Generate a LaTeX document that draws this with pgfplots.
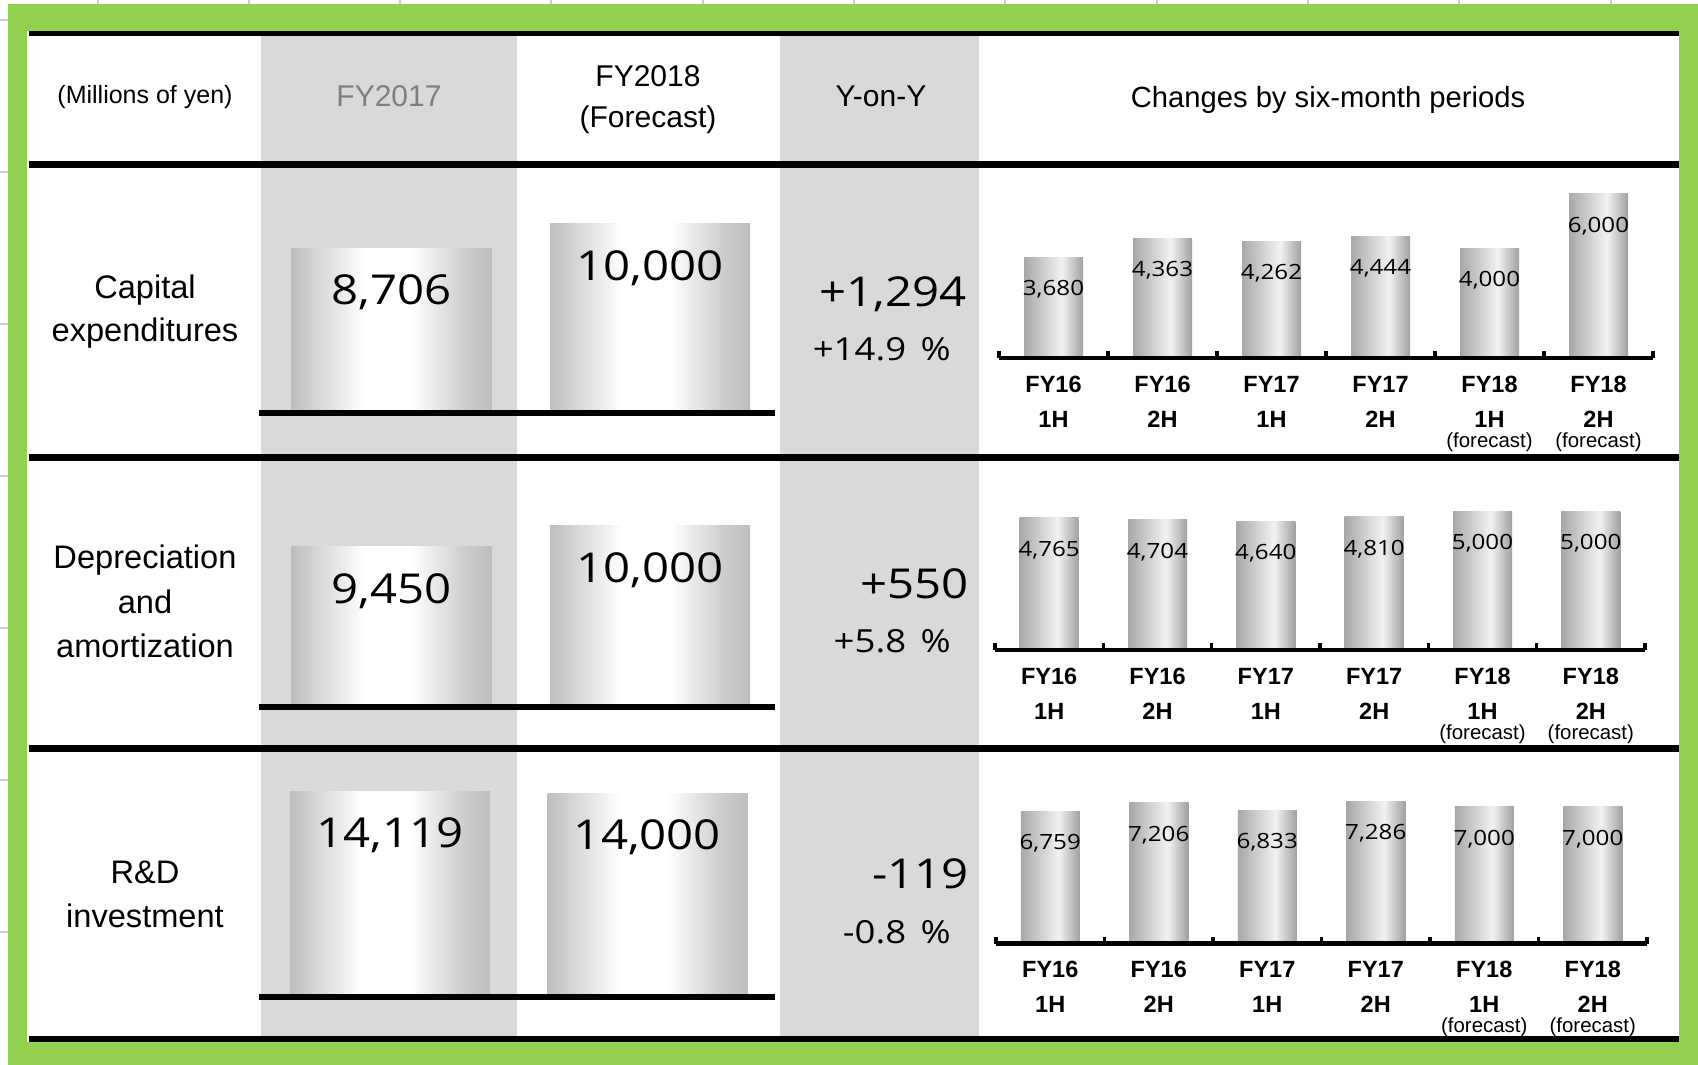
\documentclass[border=0pt]{standalone}
\usepackage{fontspec}
\setmainfont{Liberation Sans}
\newfontfamily\numfont[FakeStretch=1.15]{Open Sans}
\usepackage{pgfplots}
\pgfplotsset{compat=1.18}

\definecolor{frame}{HTML}{92D050}
\definecolor{colgray}{HTML}{D9D9D9}
\definecolor{hdrgray}{HTML}{7F7F7F}
\definecolor{gridlav}{HTML}{C8C8F0}
\definecolor{bbEdge}{HTML}{BEBEBE}
\definecolor{bbSoft}{HTML}{D4D4D4}
\definecolor{bbSoftR}{HTML}{CECECE}
\definecolor{sbL}{HTML}{A8A8A8}
\definecolor{sbM}{HTML}{F2F2F2}
\definecolor{sbR}{HTML}{A0A0A0}

% cylinder-like horizontal gradients (25bp = left edge, 75bp = right edge)
\pgfdeclarehorizontalshading{bigbar}{100bp}{color(0bp)=(bbEdge); color(25bp)=(bbEdge); color(31bp)=(bbSoft); color(43bp)=(white); color(55bp)=(white); color(68bp)=(bbSoftR); color(75bp)=(bbEdge); color(100bp)=(bbEdge)}
\pgfdeclarehorizontalshading{halfbar}{100bp}{color(0bp)=(sbL); color(25bp)=(sbL); color(57bp)=(sbM); color(75bp)=(sbR); color(100bp)=(sbR)}

\newcommand{\bignum}{\numfont\fontsize{20.6pt}{24pt}\selectfont}
\newcommand{\pctnum}{\numfont\fontsize{15.9pt}{19pt}\selectfont}
\newcommand{\smallnum}{\numfont\fontsize{10.5pt}{12pt}\selectfont}
\newcommand{\vlab}{\pgfmathprintnumber[fixed,precision=0,1000 sep={,},assume math mode=true]{\pgfplotspointmeta}}
\newcommand{\catfont}{\fontsize{11.75pt}{14pt}\selectfont\bfseries}
\newcommand{\fcfont}{\fontsize{10.2pt}{12pt}\selectfont}

% category label under a half-year bar: x, baseline 1, baseline 2, line 1, line 2
\newcommand{\cat}[5]{%
  \node[anchor=base, inner sep=0pt, font=\catfont] at (#1,#2) {#4};
  \node[anchor=base, inner sep=0pt, font=\catfont] at (#1,#3) {#5};}
\newcommand{\catf}[6]{%
  \cat{#1}{#2}{#3}{#5}{#6}%
  \node[anchor=base, inner sep=0pt, font=\fcfont] at (#1,#4) {(forecast)};}

\pgfplotsset{
  % every axis covers the whole sheet; x is measured in sheet pixels
  page/.style={scale only axis, width=849pt, height=532.5pt, xmin=0, xmax=1698,
    hide axis, clip=false, xtick=\empty, ytick=\empty, at={(0,0)}, anchor=south west},
  sheet/.style={page, ymin=0, ymax=1065, y dir=reverse},
  biglabel/.style={nodes near coords={\vlab},
    every node near coord/.append style={anchor=base, yshift=-28.25pt, inner sep=0pt, text=black, font=\bignum}},
  annualbar/.style={bar width=100pt, draw=none, shading=bigbar, overlay},
  % one \addplot per bar, so that every bar carries its own gradient
  annual/.style={ybar, annualbar, biglabel},
  half/.style={ybar, bar width=29.5pt, draw=none, shading=halfbar, overlay,
    nodes near coords={\vlab},
    every node near coord/.append style={anchor=base, yshift=-19.25pt, inner sep=0pt, text=black, font=\smallnum}},
}

\begin{document}
\begin{tikzpicture}
% ================= sheet background, columns and texts =================
\begin{axis}[sheet]
\coordinate (pgTL) at (0,0);
\coordinate (pgBR) at (1698,1065);
\fill[white] (0,0) rectangle (1698,1065);
% spreadsheet grid peeking out around the frame
\draw[gridlav, line width=1pt] (97.5,0) -- (97.5,4);
\draw[gridlav, line width=1pt] (248.8,0) -- (248.8,4);
\draw[gridlav, line width=1pt] (400.1,0) -- (400.1,4);
\draw[gridlav, line width=1pt] (551.4,0) -- (551.4,4);
\draw[gridlav, line width=1pt] (702.7,0) -- (702.7,4);
\draw[gridlav, line width=1pt] (854,0) -- (854,4);
\draw[gridlav, line width=1pt] (1005.3,0) -- (1005.3,4);
\draw[gridlav, line width=1pt] (1156.6,0) -- (1156.6,4);
\draw[gridlav, line width=1pt] (1307.9,0) -- (1307.9,4);
\draw[gridlav, line width=1pt] (1459.2,0) -- (1459.2,4);
\draw[gridlav, line width=1pt] (1610.5,0) -- (1610.5,4);
\draw[gridlav, line width=1pt] (0,20) -- (8,20);
\draw[gridlav, line width=1pt] (0,172) -- (8,172);
\draw[gridlav, line width=1pt] (0,324) -- (8,324);
\draw[gridlav, line width=1pt] (0,476) -- (8,476);
\draw[gridlav, line width=1pt] (0,628) -- (8,628);
\draw[gridlav, line width=1pt] (0,780) -- (8,780);
\draw[gridlav, line width=1pt] (0,932) -- (8,932);
% green frame and table body
\fill[frame] (8,4) rectangle (1698,1065);
\fill[white] (27,31) rectangle (1679,1042);
\fill[colgray] (261,33) rectangle (516.5,1039);
\fill[colgray] (780,33) rectangle (979,1039);
% header
\node[anchor=base, font=\fontsize{12.5pt}{15pt}\selectfont] at (145,104) {(Millions of yen)};
\node[anchor=base, text=hdrgray, font=\fontsize{15pt}{18pt}\selectfont] at (389,107) {FY2017};
\node[anchor=base, font=\fontsize{15pt}{18pt}\selectfont] at (648,87) {FY2018};
\node[anchor=base, font=\fontsize{15pt}{18pt}\selectfont] at (648,127) {(Forecast)};
\node[anchor=base, font=\fontsize{15pt}{18pt}\selectfont] at (881,107) {Y-on-Y};
\node[anchor=base, font=\fontsize{14.6pt}{18pt}\selectfont] at (1328,108) {Changes by six-month periods};
% row titles
\node[anchor=base, font=\fontsize{16.3pt}{20pt}\selectfont] at (145,298) {Capital};
\node[anchor=base, font=\fontsize{16.3pt}{20pt}\selectfont] at (145,341) {expenditures};
\node[anchor=base, font=\fontsize{16.3pt}{20pt}\selectfont] at (145,568) {Depreciation};
\node[anchor=base, font=\fontsize{16.3pt}{20pt}\selectfont] at (145,613) {and};
\node[anchor=base, font=\fontsize{16.3pt}{20pt}\selectfont] at (145,657) {amortization};
\node[anchor=base, font=\fontsize{16.3pt}{20pt}\selectfont] at (145,883) {R\&D};
\node[anchor=base, font=\fontsize{16.3pt}{20pt}\selectfont] at (145,927) {investment};
\end{axis}

% ================= Capital expenditures =================
% annual bars: value 0 on the baseline at y=413, 52.91 per pixel
\begin{axis}[page, ymin=-34497, ymax=21852]
\addplot[annual] coordinates {(391.5,8706)};
\addplot[annual] coordinates {(650,10000)};
\end{axis}
% half-year bars: value 0 on the axis line at y=358, 36.5 per pixel
\begin{axis}[page, ymin=-25805.5, ymax=13067]
\addplot[half] coordinates {(1053.5,3680)};
\addplot[half] coordinates {(1162.5,4363)};
\addplot[half] coordinates {(1271.5,4262)};
\addplot[half] coordinates {(1380.5,4444)};
\addplot[half] coordinates {(1489.5,4000)};
\addplot[half] coordinates {(1598.5,6000)};
\end{axis}

% ================= Depreciation and amortization =================
% annual bars stand on 5,200 at the baseline y=707, 26.5 per pixel
\begin{axis}[page, ymin=-4287, ymax=23935.5, ybar stacked]
\addplot[bar width=100pt, draw=none, fill=none, forget plot] coordinates {(391.5,5200)};
\addplot[annualbar] table[x=x, y expr=\thisrow{v}-5200, row sep=\\] {x v\\ 391.5 9450\\};
\end{axis}
\begin{axis}[page, ymin=-4287, ymax=23935.5, ybar stacked]
\addplot[bar width=100pt, draw=none, fill=none, forget plot] coordinates {(650,5200)};
\addplot[annualbar] table[x=x, y expr=\thisrow{v}-5200, row sep=\\] {x v\\ 650 10000\\};
\end{axis}
% value labels of the two bars above
\begin{axis}[page, ymin=-4287, ymax=23935.5]
\addplot[draw=none, mark=none, biglabel] coordinates {(391.5,9450) (650,10000)};
\end{axis}
% half-year bars: value 0 on the axis line at y=650, 36.05 per pixel
\begin{axis}[page, ymin=-14960.75, ymax=23432.5]
\addplot[half] coordinates {(1049.2,4765)};
\addplot[half] coordinates {(1157.5,4704)};
\addplot[half] coordinates {(1265.8,4640)};
\addplot[half] coordinates {(1374.2,4810)};
\addplot[half] coordinates {(1482.5,5000)};
\addplot[half] coordinates {(1590.8,5000)};
\end{axis}

% ================= R&D investment =================
% annual bars: value 0 on the baseline at y=997, 68.7 per pixel
\begin{axis}[page, ymin=-4671.6, ymax=68493.9]
\addplot[annual] coordinates {(389.75,14119)};
\addplot[annual] coordinates {(647.5,14000)};
\end{axis}
% half-year bars: value 0 on the axis line at y=943.5, 51.2 per pixel
\begin{axis}[page, ymin=-6220.8, ymax=48307.2]
\addplot[half] coordinates {(1050.25,6759)};
\addplot[half] coordinates {(1158.75,7206)};
\addplot[half] coordinates {(1267.25,6833)};
\addplot[half] coordinates {(1375.75,7286)};
\addplot[half] coordinates {(1484.25,7000)};
\addplot[half] coordinates {(1592.75,7000)};
\end{axis}

% ================= rules, category axes and year-on-year figures =================
\begin{axis}[sheet]
% table rules
\fill[black] (29,31) rectangle (1678.5,36);
\fill[black] (29,161) rectangle (1678.5,168);
\fill[black] (29,453.5) rectangle (1678.5,460.5);
\fill[black] (29,744.5) rectangle (1678.5,751.5);
\fill[black] (29,1036) rectangle (1678.5,1042);
% baselines under the annual bars
\fill[black] (259,410) rectangle (775,416);
\fill[black] (259,704) rectangle (775,710);
\fill[black] (259,994) rectangle (775,1000);
% half-year category axes with boundary ticks
\draw[line width=2.25pt] (999,358) -- (1653,358);
\draw[line width=1.6pt] (999,358) -- (999,351);
\draw[line width=1.6pt] (1108,358) -- (1108,351);
\draw[line width=1.6pt] (1217,358) -- (1217,351);
\draw[line width=1.6pt] (1326,358) -- (1326,351);
\draw[line width=1.6pt] (1435,358) -- (1435,351);
\draw[line width=1.6pt] (1544,358) -- (1544,351);
\draw[line width=1.6pt] (1653,358) -- (1653,351);
\draw[line width=2.25pt] (995,650) -- (1645,650);
\draw[line width=1.6pt] (995,650) -- (995,643);
\draw[line width=1.6pt] (1103.3,650) -- (1103.3,643);
\draw[line width=1.6pt] (1211.7,650) -- (1211.7,643);
\draw[line width=1.6pt] (1320,650) -- (1320,643);
\draw[line width=1.6pt] (1428.3,650) -- (1428.3,643);
\draw[line width=1.6pt] (1536.7,650) -- (1536.7,643);
\draw[line width=1.6pt] (1645,650) -- (1645,643);
\draw[line width=2.25pt] (996,943.5) -- (1647,943.5);
\draw[line width=1.6pt] (996,943.5) -- (996,936.5);
\draw[line width=1.6pt] (1104.5,943.5) -- (1104.5,936.5);
\draw[line width=1.6pt] (1213,943.5) -- (1213,936.5);
\draw[line width=1.6pt] (1321.5,943.5) -- (1321.5,936.5);
\draw[line width=1.6pt] (1430,943.5) -- (1430,936.5);
\draw[line width=1.6pt] (1538.5,943.5) -- (1538.5,936.5);
\draw[line width=1.6pt] (1647,943.5) -- (1647,936.5);
% category labels
\cat{1053.5}{392}{427}{FY16}{1H}
\cat{1162.5}{392}{427}{FY16}{2H}
\cat{1271.5}{392}{427}{FY17}{1H}
\cat{1380.5}{392}{427}{FY17}{2H}
\catf{1489.5}{392}{427}{447}{FY18}{1H}
\catf{1598.5}{392}{427}{447}{FY18}{2H}
\cat{1049.2}{684}{719}{FY16}{1H}
\cat{1157.5}{684}{719}{FY16}{2H}
\cat{1265.8}{684}{719}{FY17}{1H}
\cat{1374.2}{684}{719}{FY17}{2H}
\catf{1482.5}{684}{719}{739}{FY18}{1H}
\catf{1590.8}{684}{719}{739}{FY18}{2H}
\cat{1050.25}{977.5}{1012.5}{FY16}{1H}
\cat{1158.75}{977.5}{1012.5}{FY16}{2H}
\cat{1267.25}{977.5}{1012.5}{FY17}{1H}
\cat{1375.75}{977.5}{1012.5}{FY17}{2H}
\catf{1484.25}{977.5}{1012.5}{1032}{FY18}{1H}
\catf{1592.75}{977.5}{1012.5}{1032}{FY18}{2H}
% year-on-year change
\node[anchor=base east, inner sep=0pt, font=\bignum] at (967,306) {+1,294};
\node[anchor=base east, inner sep=0pt, font=\pctnum] at (951,360) {+14.9\hspace{0.45em}\%};
\node[anchor=base east, inner sep=0pt, font=\bignum] at (969,598) {+550};
\node[anchor=base east, inner sep=0pt, font=\pctnum] at (951,652) {+5.8\hspace{0.45em}\%};
\node[anchor=base east, inner sep=0pt, font=\bignum] at (969,888) {-119};
\node[anchor=base east, inner sep=0pt, font=\pctnum] at (951,943) {-0.8\hspace{0.45em}\%};
\end{axis}
\pgfresetboundingbox
\path[use as bounding box] (pgTL) rectangle (pgBR);
\end{tikzpicture}
\end{document}
